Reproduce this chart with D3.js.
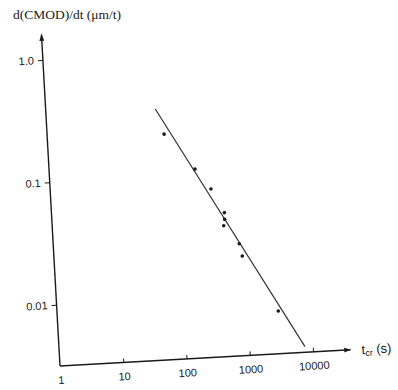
<!DOCTYPE html>
<html>
<head>
<meta charset="utf-8">
<script src="https://cdn.jsdelivr.net/npm/d3@7"></script>
<style>
  body { margin: 0; background: #fff; }
  svg { display: block; }
  .tick text { font-family: "Liberation Sans", Arial, sans-serif; font-size: 11px; fill: #222; }
</style>
</head>
<body>
<svg id="chart" width="398" height="390"></svg>
<script>
// values
const tcr = [70, 200, 343, 531, 531, 506, 857, 933, 3080];
const rate = [0.219, 0.110, 0.0745, 0.0471, 0.0416, 0.0369, 0.0259, 0.0205, 0.00704];
const fitT = [53.5, 7550];
const fitRate = [0.354, 0.00351];
const xTicks = [1, 10, 100, 1000, 10000];
const xTickLabels = ["1", "10", "100", "1000", "10000"];
const yTicks = [0.01, 0.1, 1];
const yTickLabels = ["0.01", "0.1", "1.0"];

const svg = d3.select("#chart");
const ink = "#1a1a1a";

svg.append("defs").append("marker")
    .attr("id", "arrow")
    .attr("viewBox", "0 0 10 10")
    .attr("refX", 9).attr("refY", 5)
    .attr("markerWidth", 7).attr("markerHeight", 7)
    .attr("markerUnits", "userSpaceOnUse")
    .attr("orient", "auto")
  .append("path")
    .attr("d", "M0,1.5 L10,5 L0,8.5 Z")
    .attr("fill", ink);

// title
svg.append("text")
    .attr("x", 13).attr("y", 19)
    .attr("font-family", "Liberation Serif, Times New Roman, serif")
    .attr("font-size", 13.5)
    .attr("fill", ink)
    .text("d(CMOD)/dt (\u03bcm/t)");

// the scan is tilted a little, so the whole plot is rotated round the origin
const g = svg.append("g").attr("transform", "translate(60,366) rotate(-3.2)");

const x = d3.scaleLog().domain([1, 10000]).range([0, 253.4]);
const y = d3.scaleLog().domain([0.01, 1]).range([-61.4, -306.6]);

// axis lines with arrows
g.append("line")
    .attr("x1", 0).attr("y1", 0).attr("x2", 291).attr("y2", 0)
    .attr("stroke", ink).attr("stroke-width", 1.4)
    .attr("marker-end", "url(#arrow)");
g.append("line")
    .attr("x1", 0).attr("y1", 0).attr("x2", 0).attr("y2", -332)
    .attr("stroke", ink).attr("stroke-width", 1.4)
    .attr("marker-end", "url(#arrow)");

const xAxis = g.append("g")
    .call(d3.axisBottom(x).tickValues(xTicks)
      .tickFormat((d, i) => xTickLabels[i]).tickSize(-4).tickPadding(10));
xAxis.select(".domain").remove();
xAxis.selectAll(".tick line").attr("stroke", ink);
xAxis.selectAll(".tick").filter(d => d === 1).select("line").remove();

const yAxis = g.append("g")
    .call(d3.axisLeft(y).tickValues(yTicks)
      .tickFormat((d, i) => yTickLabels[i]).tickSize(5).tickPadding(4));
yAxis.select(".domain").remove();
yAxis.selectAll(".tick line").attr("stroke", ink);

// x axis label
const xl = g.append("text")
    .attr("x", 302).attr("y", 5)
    .attr("font-family", "Liberation Sans, Arial, sans-serif")
    .attr("font-size", 13)
    .attr("fill", ink);
xl.append("tspan").text("t");
xl.append("tspan").attr("font-size", 9).attr("dy", 2).text("cr");
xl.append("tspan").attr("dy", -2).text(" (s)");

// fitted line
g.append("path")
    .datum(fitT.map((t, i) => [t, fitRate[i]]))
    .attr("d", d3.line().x(d => x(d[0])).y(d => y(d[1])))
    .attr("stroke", "#333").attr("stroke-width", 1.2).attr("fill", "none");

// measured points
g.selectAll(".pt")
  .data(tcr.map((t, i) => [t, rate[i]]))
  .enter()
  .append("circle")
    .attr("class", "pt")
    .attr("cx", d => x(d[0]))
    .attr("cy", d => y(d[1]))
    .attr("r", 1.8)
    .attr("fill", ink);
</script>
</body>
</html>
